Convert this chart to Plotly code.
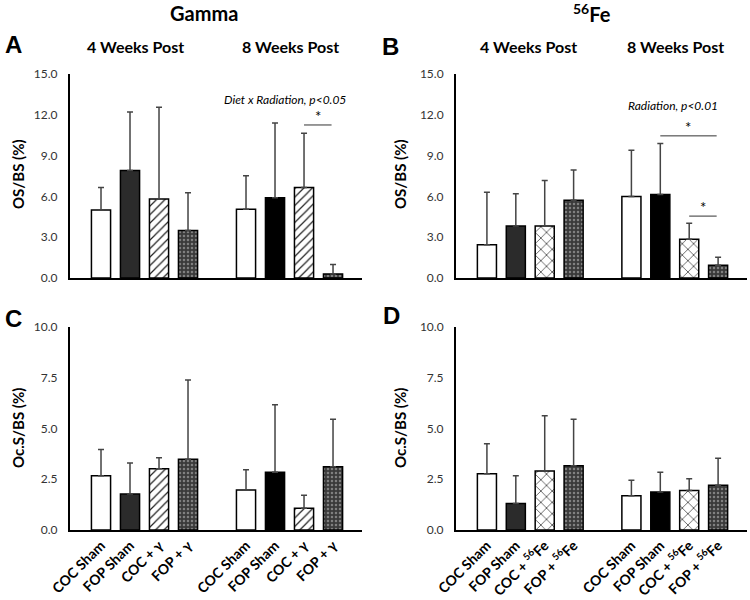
import plotly.graph_objects as go

# group labels (x axis)
gamma_labels = ["COC Sham", "FOP Sham", "COC + γ", "FOP + γ"]
fe_labels = ["COC Sham", "FOP Sham", "COC + <sup>56</sup>Fe", "FOP + <sup>56</sup>Fe"]

# means and upper SD, 4 weeks then 8 weeks
a_mean = [5.0, 7.9, 5.8, 3.5, 5.05, 5.9, 6.65, 0.3]
a_sd = [1.65, 4.3, 6.75, 2.77, 2.47, 5.5, 4.0, 0.7]
b_mean = [2.45, 3.82, 3.82, 5.71, 6.0, 6.13, 2.84, 0.93]
b_sd = [3.85, 2.38, 3.34, 2.23, 3.39, 3.75, 1.18, 0.59]
c_mean = [2.67, 1.77, 3.02, 3.48, 1.97, 2.84, 1.07, 3.12]
c_sd = [1.29, 1.53, 0.54, 3.91, 1.0, 3.33, 0.64, 2.33]
d_mean = [2.77, 1.31, 2.9, 3.17, 1.69, 1.87, 1.94, 2.2]
d_sd = [1.48, 1.36, 2.73, 2.28, 0.76, 0.97, 0.59, 1.33]

# significance brackets: (bar from, bar to, level)
sig_a = [(6, 7, 11.25)]
sig_b = [(5, 7, 10.45), (6, 7, 4.55)]

FONT = "Lato"

# bar slot positions, one empty slot between the two time points
pos = [i + (1 if i >= 4 else 0) for i in range(8)]


def group_style(k, hatch):
    # colour / pattern for each treatment group
    if k == 0:
        return ["white", "white"], dict(shape="")
    if k == 1:
        return ["#2b2b2b", "black"], dict(shape="")
    if k == 2:
        if hatch == "/":
            return "white", dict(shape="/", bgcolor="white", fgcolor="#222",
                                 fgopacity=1, size=6, solidity=0.2)
        return "white", dict(shape="x", bgcolor="white", fgcolor="#222",
                             fgopacity=1, size=8, solidity=0.16)
    return "#3a3a3a", dict(shape=".", bgcolor="#3a3a3a", fgcolor="#c8c8c8",
                           size=4, solidity=0.3)


fig = go.Figure()


def add_panel(mean, sd, hatch, xa, ya):
    for k in range(4):
        idx = [k, k + 4]
        colors, pat = group_style(k, hatch)
        fig.add_trace(go.Bar(
            x=[pos[i] for i in idx], y=[mean[i] for i in idx], width=0.66,
            xaxis=xa, yaxis=ya,
            marker=dict(color=colors, line=dict(color="black", width=1.5), pattern=pat),
            error_y=dict(type="data", symmetric=False, array=[sd[i] for i in idx],
                         arrayminus=[0, 0], color="#444", thickness=1.5, width=3),
            showlegend=False,
        ))


add_panel(a_mean, a_sd, "/", "x", "y")
add_panel(b_mean, b_sd, "x", "x2", "y2")
add_panel(c_mean, c_sd, "/", "x3", "y3")
add_panel(d_mean, d_sd, "x", "x4", "y4")

left = [0.0933, 0.4827]
right = [0.608, 0.996]
top = [0.5367, 0.8767]
bot = [0.1167, 0.455]

xcommon = dict(range=[-1.07, 9.0], showline=True, linecolor="black", linewidth=2,
               showgrid=False, zeroline=False, ticks="", fixedrange=True, automargin=False)
ycommon = dict(showline=True, linecolor="black", linewidth=2, showgrid=False,
               zeroline=False, ticks="", tickformat=".1f", ticklabelstandoff=8,
               automargin=False, tickfont=dict(family=FONT, size=12, color="#333"))
xtickfont = dict(family=FONT, size=14, color="black", weight="bold")

fig.update_layout(
    barmode="overlay",
    xaxis=dict(domain=left, anchor="y", showticklabels=False, **xcommon),
    xaxis2=dict(domain=right, anchor="y2", showticklabels=False, **xcommon),
    xaxis3=dict(domain=left, anchor="y3", tickvals=pos, ticktext=gamma_labels * 2,
                tickangle=-45, tickfont=xtickfont, **xcommon),
    xaxis4=dict(domain=right, anchor="y4", tickvals=pos, ticktext=fe_labels * 2,
                tickangle=-45, tickfont=xtickfont, **xcommon),
    yaxis=dict(domain=top, anchor="x", range=[0, 15], dtick=3, **ycommon),
    yaxis2=dict(domain=top, anchor="x2", range=[0, 15], dtick=3, **ycommon),
    yaxis3=dict(domain=bot, anchor="x3", range=[0, 10], dtick=2.5, **ycommon),
    yaxis4=dict(domain=bot, anchor="x4", range=[0, 10], dtick=2.5, **ycommon),
    width=750, height=600,
    margin=dict(l=0, r=0, t=0, b=0),
    plot_bgcolor="white", paper_bgcolor="white",
    font=dict(family=FONT, color="black"),
)

ann = []


def text(x, y, s, size, bold=True, italic=False, family=FONT, angle=0):
    if bold:
        s = "<b>" + s + "</b>"
    if italic:
        s = "<i>" + s + "</i>"
    ann.append(dict(x=x / 750, y=1 - y / 600, xref="paper", yref="paper", text=s,
                    showarrow=False, font=dict(family=family, size=size, color="black"),
                    textangle=angle, xanchor="center", yanchor="middle"))


text(204, 13, "Gamma", 20)
text(592, 13, "<sup>56</sup>Fe", 20)
for x in (135, 528):
    text(x, 46, "4 Weeks Post", 16)
for x in (290, 675):
    text(x, 46, "8 Weeks Post", 16)
for letter, x, y in (("A", 13, 45), ("B", 390, 46), ("C", 13, 318), ("D", 392, 316)):
    text(x, y, letter, 24, family="Liberation Sans")
text(18, 174, "OS/BS (%)", 15, angle=-90)
text(400, 174, "OS/BS (%)", 15, angle=-90)
text(18, 428, "Oc.S/BS (%)", 15, angle=-90)
text(400, 428, "Oc.S/BS (%)", 15, angle=-90)
text(285, 100, "Diet x Radiation, p<0.05", 12, bold=False, italic=True)
text(673, 106, "Radiation, p<0.01", 12, bold=False, italic=True)

shapes = []
for sigs, xa, ya in ((sig_a, "x", "y"), (sig_b, "x2", "y2")):
    for i, j, lvl in sigs:
        x0, x1 = pos[i], pos[j] - 0.05
        shapes.append(dict(type="line", xref=xa, yref=ya, x0=x0, x1=x1, y0=lvl, y1=lvl,
                           line=dict(color="#333", width=1)))
        ann.append(dict(x=(x0 + x1) / 2, y=lvl, xref=xa, yref=ya, text="*",
                        showarrow=False, yanchor="bottom", yshift=-2,
                        font=dict(family=FONT, size=15, color="black")))

fig.update_layout(annotations=ann, shapes=shapes)
# drop the default page margin so the figure sits at the window's corner
fig.write_html("out.html", config={"displayModeBar": False},
               post_script="document.body.style.margin='0';")
